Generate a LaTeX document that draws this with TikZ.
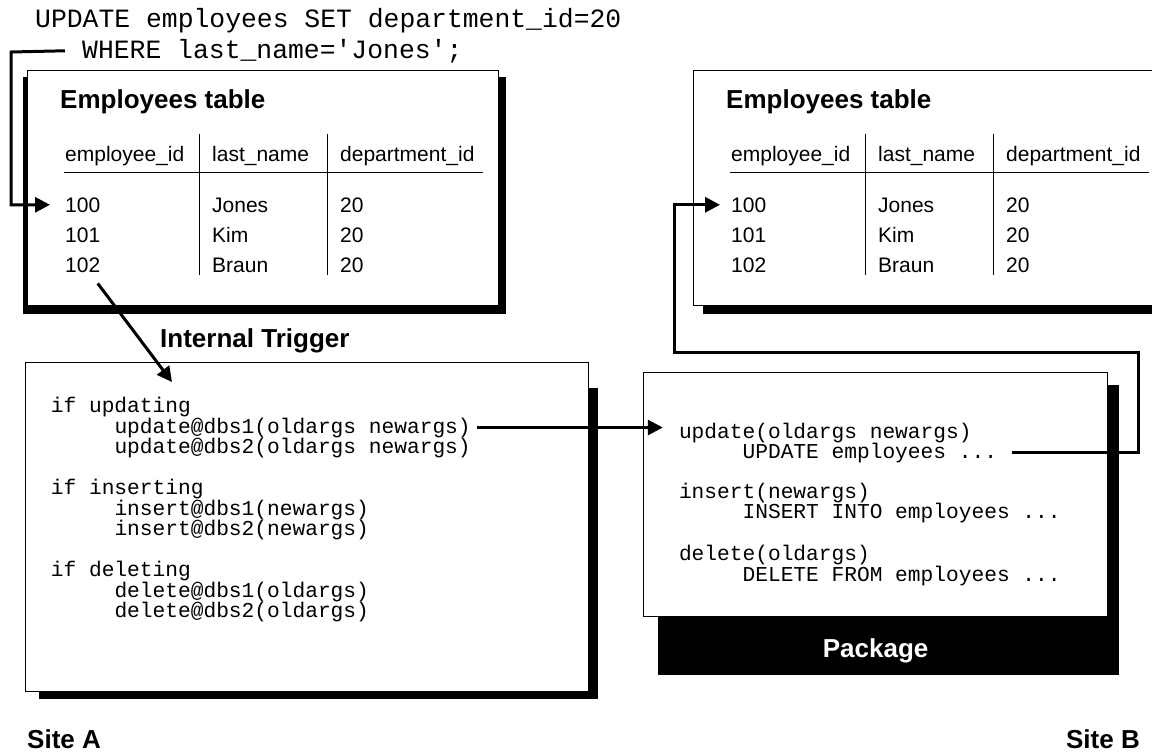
\documentclass[tikz,border=0pt]{standalone}
\usepackage{fontspec}
\setmainfont{Liberation Sans}
\setmonofont{Liberation Mono}
\usepackage{tikz}
\usetikzlibrary{positioning, arrows.meta, backgrounds}

\newcommand\cellfont{\fontsize{21}{25}\selectfont}
\newcommand\headfont{\fontsize{26}{30}\selectfont\bfseries}
\newcommand\codefont{\fontsize{21.2}{25}\selectfont\ttfamily}
\newcommand\sqlfont{\fontsize{26.4}{31}\selectfont\ttfamily}
\newcommand\andmore{...}

\begin{document}
\begin{tikzpicture}[x = 1pt, y = -1pt,
    box/.style = { draw, fill = white, line width = 1.2pt, inner sep = 0pt, anchor = north west },
    cell/.style = { inner sep = 0pt, anchor = base west, font = \cellfont },
    heading/.style = { inner sep = 0pt, anchor = base west, font = \headfont },
    codeline/.style = { inner sep = 0pt, anchor = base west, font = \codefont },
    wire/.style = { line width = 3pt },
    arrowed/.style = { -{Triangle[length = 15pt, width = 15pt]} } ]
  \useasboundingbox (0,0) rectangle (1152,755);

  \node [codeline, font = \sqlfont] (sql1) at (35,27) {UPDATE employees SET department\_id=20};
  \node [codeline, font = \sqlfont] (sql2) at (82,58) {WHERE last\_name='Jones';};

  \foreach \t/\ox/\sx in {A/27/-4, B/693/10} {
    \node [box, minimum width = 471pt, minimum height = 235pt] (tab\t) at (\ox,70) {};
    \begin{scope}[on background layer]
      \fill ([shift = {(\sx,7)}]tab\t.north west) rectangle ([shift = {(7,8)}]tab\t.south east);
    \end{scope}
    \node [heading] (title\t) at ({\ox+33},108) {Employees table};
    \node [cell] (hd\t-1) at ({\ox+38},161) {employee\_id};
    \node [cell] (hd\t-2) at ({\ox+185},161) {last\_name};
    \node [cell] (hd\t-3) at ({\ox+313},161) {department\_id};
    \draw [line width = 1pt] ({\ox+37},172) -- ({\ox+456},172);
    \draw [line width = 1pt] ({\ox+172},134) -- ({\ox+172},275);
    \draw [line width = 1pt] ({\ox+300},134) -- ({\ox+300},275);
    \foreach \id/\nm [count = \r] in {100/Jones, 101/Kim, 102/Braun} {
      \node [cell] (cell\t-\r-1) at ({\ox+38},{182+30*\r}) {\id};
      \node [cell] (cell\t-\r-2) at ({\ox+185},{182+30*\r}) {\nm};
      \node [cell] (cell\t-\r-3) at ({\ox+313},{182+30*\r}) {20};
    }
  }

  \node [box, minimum width = 563pt, minimum height = 329pt] (trig) at (25,362) {};
  \begin{scope}[on background layer]
    \fill ([shift = {(14,26)}]trig.north west) rectangle ([shift = {(9,7)}]trig.south east);
  \end{scope}
  \node [heading] (trigname) at (160,347.5) {Internal Trigger};
  \foreach \y/\x/\txt [count = \i] in {412/0/if updating, 433/1/update@dbs1(oldargs newargs),
      453/1/update@dbs2(oldargs newargs), 494/0/if inserting, 515/1/insert@dbs1(newargs),
      535/1/insert@dbs2(newargs), 576/0/if deleting, 597/1/delete@dbs1(oldargs),
      617/1/delete@dbs2(oldargs)}
    \node [codeline] (trg\i) at ({50.7+63.6*\x},\y) {\txt};

  \node [box, minimum width = 464pt, minimum height = 244pt] (pkg) at (643,372) {};
  \begin{scope}[on background layer]
    \fill ([shift = {(15,13)}]pkg.north west) rectangle ([shift = {(11,58)}]pkg.south east);
  \end{scope}
  \node [heading, anchor = base, text = white] (pkgname) at ([yshift = -40pt]pkg.south) {Package};
  \foreach \y/\x/\txt [count = \i] in {438/0/update(oldargs newargs), 458/1/UPDATE employees \andmore,
      498/0/insert(newargs), 518/1/INSERT INTO employees \andmore,
      560/0/delete(oldargs), 581/1/DELETE FROM employees \andmore}
    \node [codeline] (pkg\i) at ({678.8+63.6*\x},\y) {\txt};

  \node [heading] (siteA) at (27,748) {Site A};
  \node [heading, anchor = base east] (siteB) at (1140,748) {Site B};

  \coordinate (bendA) at (11,52);
  \draw [wire, arrowed] ([xshift = -17pt]sql2.west) -- (bendA) |- ([xshift = -15pt]cellA-1-1.west);
  \draw [wire, arrowed] ([shift = {(15,11)}]cellA-3-1.south) -- ([shift = {(147,20)}]trig.north west);
  \coordinate (pkgin) at ([xshift = -16pt]pkg1.west);
  \draw [wire, arrowed] ([xshift = 6pt]trg2.east) -- (trg2.east -| pkgin);
  \coordinate (bendB1) at (1138,352);
  \coordinate (bendB2) at (674,352);
  \draw [wire, arrowed] ([xshift = 15pt]pkg2.east) -| (bendB1) -- (bendB2) |- ([xshift = -11pt]cellB-1-1.west);
\end{tikzpicture}
\end{document}
